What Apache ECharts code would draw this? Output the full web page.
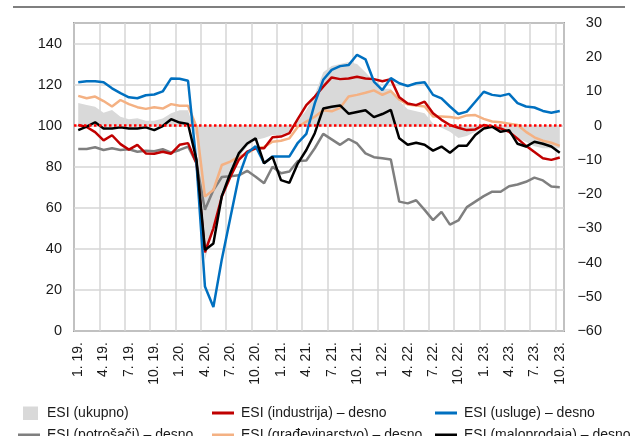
<!DOCTYPE html>
<html>
<head>
<meta charset="utf-8">
<script src="https://cdn.jsdelivr.net/npm/echarts@6/dist/echarts.min.js"></script>
<style>
  html, body { margin: 0; padding: 0; background: #fff; }
  #main { width: 635px; height: 436px; }
</style>
</head>
<body>
<div id="main"></div>
<script>
var months = [
  '1. 19.', '2. 19.', '3. 19.', '4. 19.', '5. 19.', '6. 19.', '7. 19.', '8. 19.', '9. 19.', '10. 19.', '11. 19.', '12. 19.',
  '1. 20.', '2. 20.', '3. 20.', '4. 20.', '5. 20.', '6. 20.', '7. 20.', '8. 20.', '9. 20.', '10. 20.', '11. 20.', '12. 20.',
  '1. 21.', '2. 21.', '3. 21.', '4. 21.', '5. 21.', '6. 21.', '7. 21.', '8. 21.', '9. 21.', '10. 21.', '11. 21.', '12. 21.',
  '1. 22.', '2. 22.', '3. 22.', '4. 22.', '5. 22.', '6. 22.', '7. 22.', '8. 22.', '9. 22.', '10. 22.', '11. 22.', '12. 22.',
  '1. 23.', '2. 23.', '3. 23.', '4. 23.', '5. 23.', '6. 23.', '7. 23.', '8. 23.', '9. 23.', '10. 23.'
];

// lijeva os
var ukupno = [111, 110.1, 109.2, 106.3, 107.6, 104.4, 103.1, 103.6, 102.4, 102.4, 103.5, 106, 107.5, 107.5,
  94, 34.5, 51, 68, 77, 84.5, 90, 93, 94, 95.5, 95.5, 97, 102, 107.6, 115, 126, 129, 130, 131, 130, 126, 121.5,
  118, 118, 112, 108, 107, 106, 101, 99, 97, 94, 95, 97, 99.5, 99.5, 98, 98.5, 94, 92, 90, 89, 89, 89];

// desna os
var industrija = [0.2, -0.4, -1.9, -4.3, -2.8, -5.4, -7.0, -5.6, -8.1, -8.2, -7.6, -8.2, -5.6, -5.1,
  -11, -37, -30, -20.7, -15, -10, -7.6, -6.6, -6.6, -3.4, -3.2, -2.2, 2.0, 6.0, 8.5, 11.4, 14.1, 13.6, 13.8, 14.3, 13.8, 13.6,
  13, 13.6, 8.3, 6.5, 6.0, 7.0, 3.6, 1.7, 0.2, -0.6, -1.3, -1.1, 0.2, -0.3, -0.8, -1.8, -3.8, -5.9, -7.7, -9.5, -10, -9.3];

var usluge = [12.7, 13, 13, 12.7, 10.9, 9.5, 8.3, 8.0, 8.9, 9.1, 10.0, 13.8, 13.7, 13.1,
  -11, -47, -53, -39, -27, -15, -8, -6, -11, -9, -9, -9, -5, -2.4, 6.5, 13.4, 16.3, 17.4, 17.7, 20.7, 19.4, 12.9,
  10.4, 13.9, 12.4, 11.6, 12.4, 12.7, 9.0, 8.0, 5.6, 3.4, 4.1, 7.0, 9.9, 9.0, 8.7, 9.3, 6.6, 5.6, 5.3, 4.3, 3.8, 4.3];

var potrosaci = [-6.8, -6.8, -6.3, -7.1, -6.6, -7.1, -6.9, -7.6, -7.3, -7.5, -6.9, -7.9, -7.1, -6.1,
  -11, -24.6, -18.8, -15, -14.8, -14.5, -13.2, -14.9, -16.8, -12, -13.9, -13.4, -10.3, -10.2, -6.6, -2.4, -4.0, -5.6, -3.9, -5.2, -8.1, -9.2,
  -9.5, -9.9, -22.2, -22.7, -21.8, -24.6, -27.6, -25.2, -28.9, -27.7, -23.8, -22.2, -20.6, -19.3, -19.3, -17.7, -17.2, -16.4, -15.2, -16, -17.8, -18];

var gradjevinarstvo = [8.7, 8.0, 8.5, 7.2, 5.6, 7.5, 6.3, 5.4, 4.9, 5.4, 5.0, 6.3, 5.8, 5.8,
  -0.3, -20.7, -18.8, -11.5, -10.5, -9.1, -8.1, -6.6, -6.2, -4.7, -4.4, -3.7, -0.3, 1.2, 2.6, 4.5, 4.2, 5.2, 8.5, 9.0, 9.6, 10.3,
  9.0, 10.1, 7.6, 6.2, 5.9, 5.6, 2.7, 2.7, 2.5, 2.2, 3.0, 3.1, 2.0, 1.2, 1.0, 0.6, 0.2, -1.8, -3.4, -4.4, -5.0, -5.9];

var maloprodaja = [-1.3, -0.3, 1.0, -0.8, -0.8, -0.5, -0.8, -0.8, -0.5, -1.3, -0.1, 1.9, 0.9, 0.5,
  -10, -36.3, -34.4, -20.5, -13.9, -8.1, -5.2, -3.7, -11, -9.1, -15.9, -16.7, -11, -7.1, -2.2, 5.0, 5.5, 5.9, 3.5, 4.0, 4.5, 2.5,
  3.4, 4.6, -3.7, -5.6, -5.0, -5.6, -7.3, -6.1, -7.9, -5.9, -5.9, -2.7, -0.8, -0.3, -1.8, -1.3, -5.3, -6.1, -4.7, -5.3, -6.1, -7.9];

var FONT = "'Liberation Sans', Arial, sans-serif";
// ikone 22x14, prazne tocke drze okvir
var squareIcon = 'path://M0,0L0.01,0L0,0.01Z M5,0.5L20,0.5L20,14L5,14Z M22,14L21.99,14L22,13.99Z';
var lineIcon = 'path://M0,0L0.01,0L0,0.01Z M0,5.5L22,5.5L22,8.5L0,8.5Z M22,14L21.99,14L22,13.99Z';

function lineSeries(name, color, data) {
  return {
    name: name, type: 'line', yAxisIndex: 1, data: data, color: color,
    symbol: 'none', lineStyle: { width: 2.5, color: color }
  };
}

function legendItem(left, top, name, icon) {
  return {
    left: left, top: top, itemWidth: 22, itemHeight: 14, itemGap: 0,
    data: [{ name: name, icon: icon }],
    textStyle: { fontFamily: FONT, fontSize: 14, lineHeight: 14, color: '#1a1a1a', padding: [0, 0, 0, 2] },
    selectedMode: false
  };
}

var myChart = echarts.init(document.getElementById('main'));
var option = {
  animation: false,
  grid: { left: 74, right: 71, top: 23, bottom: 105, show: true, borderColor: '#5a5a5a', borderWidth: 1.5, containLabel: false },
  graphic: [{ type: 'line', shape: { x1: 13, y1: 7, x2: 625, y2: 7 }, style: { stroke: '#555', lineWidth: 1.5 } }],
  legend: [
    legendItem(13, 401, 'ESI (ukupno)', squareIcon),
    legendItem(13, 423, 'ESI (potrošači) – desno', lineIcon),
    legendItem(207, 401, 'ESI (industrija) – desno', lineIcon),
    legendItem(207, 423, 'ESI (građevinarstvo) – desno', lineIcon),
    legendItem(430, 401, 'ESI (usluge) – desno', lineIcon),
    legendItem(430, 423, 'ESI (maloprodaja) – desno', lineIcon)
  ],
  xAxis: {
    type: 'category', data: months, boundaryGap: true,
    axisLine: { show: false }, axisTick: { show: false },
    axisLabel: { interval: 2, rotate: 90, margin: 11, fontFamily: FONT, fontSize: 14, color: '#1a1a1a' },
    splitLine: { show: true, interval: 2, lineStyle: { color: '#d6d6d6', width: 1.5 } }
  },
  yAxis: [
    {
      type: 'value', min: 0, max: 150, interval: 20, position: 'left',
      axisLine: { show: false }, axisTick: { show: false },
      axisLabel: { showMaxLabel: false, margin: 12, fontFamily: FONT, fontSize: 14.5, color: '#1a1a1a' },
      splitLine: { show: true, lineStyle: { color: '#d6d6d6', width: 1.5 } }
    },
    {
      type: 'value', min: -60, max: 30, interval: 10, position: 'right',
      axisLine: { show: false }, axisTick: { show: false }, splitLine: { show: false },
      axisLabel: {
        align: 'right', margin: 38, fontFamily: FONT, fontSize: 14.5, color: '#1a1a1a',
        formatter: function (v) { return String(v).replace('-', '\u2212'); }
      }
    }
  ],
  series: [
    {
      name: 'ESI (ukupno)', type: 'line', yAxisIndex: 0, data: ukupno, color: '#d9d9d9',
      symbol: 'none', lineStyle: { width: 0, opacity: 0 },
      areaStyle: { color: '#d9d9d9', opacity: 1, origin: 100 },
      markLine: {
        silent: true, symbol: ['none', 'none'], label: { show: false },
        lineStyle: { color: '#ff0000', width: 2.5, type: [2.5, 2.5] },
        data: [{ yAxis: 100 }]
      }
    },
    lineSeries('ESI (potrošači) – desno', '#7f7f7f', potrosaci),
    lineSeries('ESI (građevinarstvo) – desno', '#f4b183', gradjevinarstvo),
    lineSeries('ESI (industrija) – desno', '#c00000', industrija),
    lineSeries('ESI (usluge) – desno', '#0070c0', usluge),
    lineSeries('ESI (maloprodaja) – desno', '#000000', maloprodaja)
  ]
};
myChart.setOption(option);
</script>
</body>
</html>
